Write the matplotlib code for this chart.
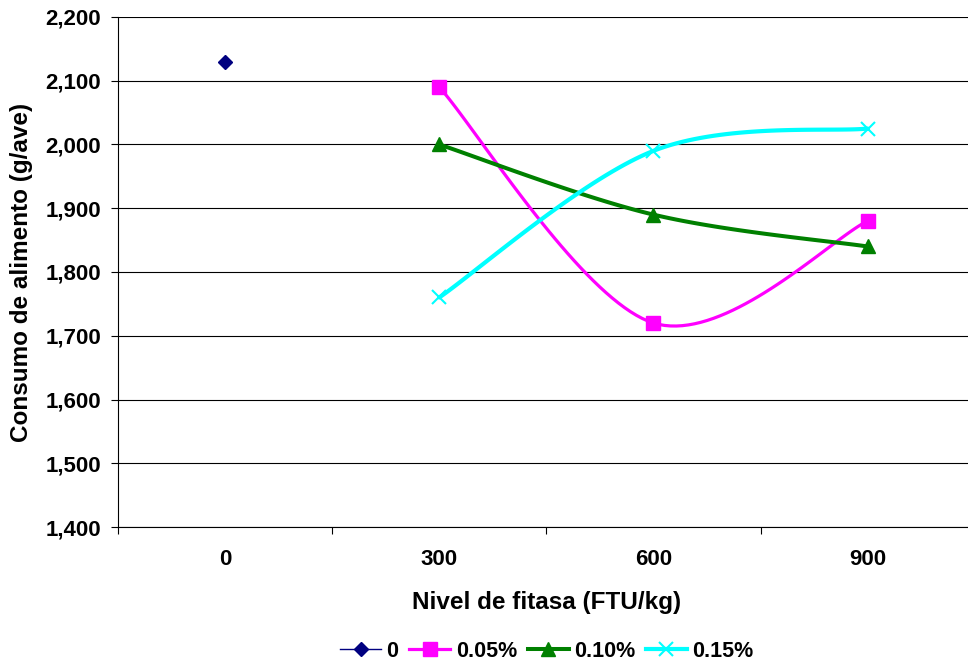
import numpy as np
import matplotlib
matplotlib.use("Agg")
import matplotlib.pyplot as plt
from matplotlib.lines import Line2D
from matplotlib.ticker import FuncFormatter, MultipleLocator, FixedLocator

plt.rcParams['font.family'] = ['Liberation Sans', 'DejaVu Sans']
plt.rcParams['font.weight'] = 'bold'

# data
niveles = ['0', '300', '600', '900']
serie_0 = [2130]
serie_005 = [2090, 1720, 1880]
serie_010 = [2000, 1890, 1840]
serie_015 = [1760, 1990, 2025]
nombres = ['0', '0.05%', '0.10%', '0.15%']


def suavizar(xs, ys, n=40):
    # catmull-rom spline drawn as bezier pieces, like the excel smoothed line
    xs = np.asarray(xs, float)
    ys = np.asarray(ys, float)
    pts = np.column_stack([xs, ys])
    out = []
    for i in range(len(pts) - 1):
        p0 = pts[i - 1] if i > 0 else pts[i]
        p1 = pts[i]
        p2 = pts[i + 1]
        p3 = pts[i + 2] if i + 2 < len(pts) else pts[i + 1]
        c1 = p1 + (p2 - p0) / 6.0
        c2 = p2 - (p3 - p1) / 6.0
        t = np.linspace(0, 1, n)[:, None]
        seg = ((1 - t) ** 3) * p1 + 3 * ((1 - t) ** 2) * t * c1 + 3 * (1 - t) * t ** 2 * c2 + t ** 3 * p2
        out.append(seg if i == 0 else seg[1:])
    out = np.vstack(out)
    return out[:, 0], out[:, 1]


fig = plt.figure(figsize=(9.68, 6.63), dpi=100)
ax = fig.add_axes([0.1219, 0.2051, 0.885, 0.7693])

estilos = [
    dict(color='#000080', marker='D', ms=7.5, lw=1.0),
    dict(color='#FF00FF', marker='s', ms=10, lw=2.3),
    dict(color='#008000', marker='^', ms=10, lw=2.9),
    dict(color='#00FFFF', marker='x', ms=10, lw=3.0, mew=1.5),
]

x_all = np.arange(len(niveles))
series = [(x_all[:1], serie_0), (x_all[1:], serie_005), (x_all[1:], serie_010), (x_all[1:], serie_015)]

handles = []
for (xs, ys), est, nombre in zip(series, estilos, nombres):
    if len(xs) > 1:
        sx, sy = suavizar(xs, ys)
        ax.plot(sx, sy, color=est['color'], lw=est['lw'], solid_capstyle='round', zorder=3)
    ax.plot(xs, ys, linestyle='none', marker=est['marker'], ms=est['ms'],
            color=est['color'], mec=est['color'], mew=est.get('mew', 1.0), zorder=4, clip_on=False)
    handles.append(Line2D([], [], color=est['color'], lw=est['lw'] if len(xs) > 1 else 1.0,
                          marker=est['marker'], ms=est['ms'], mew=est.get('mew', 1.0)))

ax.set_xlim(-0.5, 3.5)
ax.set_ylim(1400, 2200)
ax.yaxis.set_major_locator(MultipleLocator(100))
ax.yaxis.set_major_formatter(FuncFormatter(lambda v, p: f'{int(v):,}'))
ax.grid(axis='y', color='black', lw=0.8)
ax.set_axisbelow(True)

ax.set_xticks(x_all)
ax.set_xticklabels(niveles)
ax.xaxis.set_minor_locator(FixedLocator([-0.5, 0.5, 1.5, 2.5, 3.5]))
ax.tick_params(axis='x', which='major', length=0, pad=16, labelsize=16)
ax.tick_params(axis='x', which='minor', length=5, width=0.8, direction='out')
ax.tick_params(axis='y', length=5, width=0.8, direction='out', pad=7, labelsize=16)

for s in ['top', 'right']:
    ax.spines[s].set_visible(False)
ax.spines['left'].set_linewidth(0.8)
ax.spines['bottom'].set_linewidth(0.8)

ax.set_ylabel('Consumo de alimento (g/ave)', fontsize=17.5, fontweight='bold')
ax.yaxis.set_label_coords(-0.099, 0.5)
ax.set_xlabel('Nivel de fitasa (FTU/kg)', fontsize=17.5, fontweight='bold')
ax.xaxis.set_label_coords(0.5, -0.125)

fig.legend(handles, nombres, loc='center', bbox_to_anchor=(0.565, 0.018), ncol=4, frameon=False,
           handlelength=1.9, handletextpad=0.25, columnspacing=0.5,
           prop={'weight': 'bold', 'size': 15.5})

fig.savefig('out.png', dpi=100)
